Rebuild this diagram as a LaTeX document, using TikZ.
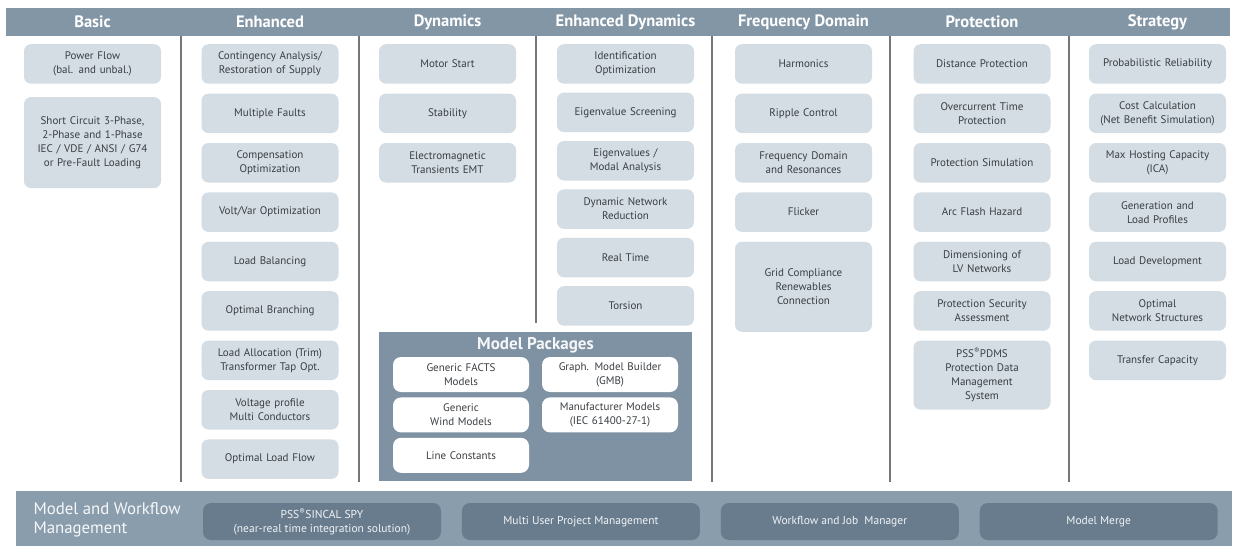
\documentclass[tikz,border=0pt]{standalone}
\usepackage{fontspec}
\setmainfont{PT Sans}
\usepackage{tikz}
\usetikzlibrary{positioning}
\definecolor{HeadGray}{RGB}{131,150,166}
\definecolor{CellGray}{RGB}{212,221,228}
\definecolor{PkgGray}{RGB}{126,146,163}
\definecolor{BarGray}{RGB}{138,157,173}
\definecolor{BarDark}{RGB}{104,124,142}
\definecolor{TextGray}{RGB}{58,62,66}
\definecolor{RuleGray}{RGB}{118,118,118}

\tikzset{
  cell/.style={fill=CellGray, rounded corners=7pt, text width=133pt,
               minimum height=39.5pt, align=center, inner sep=2pt,
               font=\fontsize{11}{14}\selectfont, text=TextGray},
  headtext/.style={font=\bfseries\fontsize{16.5}{18}\selectfont, text=white},
  pkgcell/.style={fill=white, rounded corners=8pt, text width=132pt,
                  minimum height=35pt, align=center, inner sep=2pt,
                  font=\fontsize{11}{14}\selectfont, text=TextGray},
  barcell/.style={fill=BarDark, rounded corners=8pt, minimum width=238pt,
                  minimum height=37pt, align=center, inner sep=1pt,
                  font=\fontsize{11.5}{13.5}\selectfont, text=white!88!BarGray},
  colrule/.style={draw=RuleGray, line width=1.4pt}
}

\begin{document}
\begin{tikzpicture}[x=1pt, y=-1pt, node distance=9.5pt]
  \useasboundingbox[fill=white] (0,0) rectangle (1233,546);

  % header bar
  \fill[HeadGray] (6,8) rectangle (1230,36);
  \node[headtext] (hbasic) at (92.5,22) {Basic};
  \node[headtext] (henh) at (270,22) {Enhanced};
  \node[headtext] (hdyn) at (447.5,22) {Dynamics};
  \node[headtext] (hedyn) at (625.5,22) {Enhanced Dynamics};
  \node[headtext] (hfreq) at (803.5,22) {Frequency Domain};
  \node[headtext] (hprot) at (982,22) {Protection};
  \node[headtext] (hstrat) at (1157.5,22) {Strategy};

  % column rules
  \draw[colrule] (181,36) -- (181,482);
  \draw[colrule] (359,36) -- (359,482);
  \draw[colrule] (536,36) -- (536,323);
  \draw[colrule] (712,36) -- (712,482);
  \draw[colrule] (890,36) -- (890,482);
  \draw[colrule] (1069,36) -- (1069,482);

  % Basic
  \node[cell, anchor=north] (powerflow) at (92.5,44) {Power Flow\\(bal. and unbal.)};
  \node[cell, minimum height=91pt, below=13pt of powerflow] (shortcircuit)
    {Short Circuit 3-Phase,\\2-Phase and 1-Phase\\IEC / VDE / ANSI / G74\\or Pre-Fault Loading};

  % Enhanced
  \node[cell, anchor=north] (contingency) at (270,44) {Contingency Analysis/\\Restoration of Supply};
  \node[cell, below=of contingency] (multifaults) {Multiple Faults};
  \node[cell, below=of multifaults] (compensation) {Compensation\\Optimization};
  \node[cell, below=of compensation] (voltvar) {Volt/Var Optimization};
  \node[cell, below=of voltvar] (loadbal) {Load Balancing};
  \node[cell, below=of loadbal] (branching) {Optimal Branching};
  \node[cell, below=of branching] (loadalloc) {Load Allocation (Trim)\\Transformer Tap Opt.};
  \node[cell, below=of loadalloc] (voltprofile) {Voltage profile\\Multi Conductors};
  \node[cell, below=of voltprofile] (optflow) {Optimal Load Flow};

  % Dynamics
  \node[cell, anchor=north] (motorstart) at (447.5,44) {Motor Start};
  \node[cell, below=of motorstart] (stability) {Stability};
  \node[cell, below=of stability] (emt) {Electromagnetic\\Transients EMT};

  % Enhanced Dynamics
  \node[cell, anchor=north] (identification) at (625.5,44) {Identification\\Optimization};
  \node[cell, below=8.5pt of identification] (eigscreen) {Eigenvalue Screening};
  \node[cell, below=8.5pt of eigscreen] (eigmodal) {Eigenvalues /\\Modal Analysis};
  \node[cell, below=8.5pt of eigmodal] (netreduction) {Dynamic Network\\Reduction};
  \node[cell, below=8.5pt of netreduction] (realtime) {Real Time};
  \node[cell, below=8.5pt of realtime] (torsion) {Torsion};

  % Model Packages
  \fill[PkgGray] (379,332) rectangle (692,481);
  \node[font=\bfseries\fontsize{17}{19}\selectfont, text=white!92!PkgGray] (pkgtitle) at (535.5,345) {Model Packages};
  \node[pkgcell] (facts) at (461,374.5) {Generic FACTS\\Models};
  \node[pkgcell] (gmb) at (610,374.5) {Graph. Model Builder\\(GMB)};
  \node[pkgcell, below=5pt of facts] (wind) {Generic\\Wind Models};
  \node[pkgcell, below=5pt of gmb] (manufacturer) {Manufacturer Models\\(IEC 61400-27-1)};
  \node[pkgcell, below=5pt of wind] (lineconst) {Line Constants};

  % Frequency Domain
  \node[cell, anchor=north] (harmonics) at (803.5,44) {Harmonics};
  \node[cell, below=of harmonics] (ripple) {Ripple Control};
  \node[cell, below=of ripple] (resonances) {Frequency Domain\\and Resonances};
  \node[cell, below=of resonances] (flicker) {Flicker};
  \node[cell, minimum height=90pt, below=of flicker] (gridcomp) {Grid Compliance\\Renewables\\Connection};

  % Protection
  \node[cell, anchor=north] (distance) at (982,44) {Distance Protection};
  \node[cell, below=of distance] (overcurrent) {Overcurrent Time\\Protection};
  \node[cell, below=of overcurrent] (protsim) {Protection Simulation};
  \node[cell, below=of protsim] (arcflash) {Arc Flash Hazard};
  \node[cell, below=of arcflash] (lvnet) {Dimensioning of\\LV Networks};
  \node[cell, below=of lvnet] (protsec) {Protection Security\\Assessment};
  \node[cell, minimum height=69pt, below=of protsec] (pdms)
    {PSS\textsuperscript{®}PDMS\\Protection Data\\Management\\System};

  % Strategy
  \node[cell, anchor=north] (reliability) at (1157.5,44) {Probabilistic Reliability};
  \node[cell, below=of reliability] (costcalc) {Cost Calculation\\(Net Benefit Simulation)};
  \node[cell, below=of costcalc] (hosting) {Max Hosting Capacity\\(ICA)};
  \node[cell, below=of hosting] (profiles) {Generation and\\Load Profiles};
  \node[cell, below=of profiles] (loaddev) {Load Development};
  \node[cell, below=of loaddev] (optstruct) {Optimal\\Network Structures};
  \node[cell, below=of optstruct] (transfer) {Transfer Capacity};

  % Model and Workflow Management bar
  \fill[BarGray] (16,491) rectangle (1232,546);
  \node[anchor=west, align=left, font=\fontsize{16.8}{18.5}\selectfont,
        text=white!92!BarGray] (mwm) at (30,520) {Model and Workflow\\Management};
  \node[barcell] (sincalspy) at (322,521.5)
    {PSS\textsuperscript{®}SINCAL SPY\\(near-real time integration solution)};
  \node[barcell, right=20.5pt of sincalspy] (multiuser) {Multi User Project Management};
  \node[barcell, right=20.5pt of multiuser] (jobmanager) {Workflow and Job\ \ Manager};
  \node[barcell, right=20.5pt of jobmanager] (modelmerge) {Model Merge};
\end{tikzpicture}
\end{document}
